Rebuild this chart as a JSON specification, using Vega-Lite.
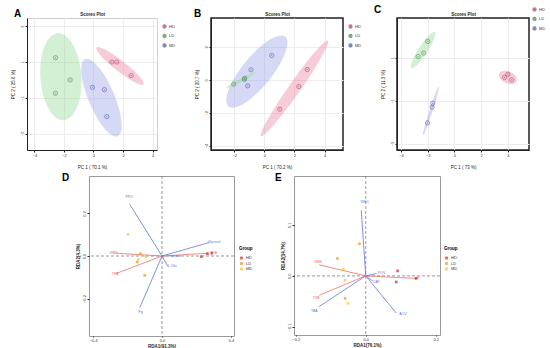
{
  "$schema": "https://vega.github.io/schema/vega-lite/v6.json",
  "padding": {"left": 9, "top": 4, "right": 0, "bottom": 0},
  "spacing": 2,
  "config": {
    "font": "Liberation Sans",
    "view": {"stroke": null},
    "axis": {"labelFontSize": 4, "titleFontSize": 4.5, "tickSize": 2, "labelPadding": 1, "domainColor": "#222", "tickColor": "#222", "labelColor": "#333", "titleColor": "#222", "gridColor": "#ececec", "titleFontWeight": "normal"},
    "legend": {"labelFontSize": 4, "titleFontSize": 4.5, "symbolSize": 10, "rowPadding": 0.5, "labelOffset": 2, "labelColor": "#333"}
  },
  "resolve": {"scale": {"color": "independent", "fill": "independent", "shape": "independent", "size": "independent", "stroke": "independent"}},
  "datasets": {
    "a_pts": [
      {"group": "LD", "x": -2.57, "y": 1.24}, {"group": "LD", "x": -1.58, "y": 0.0}, {"group": "LD", "x": -2.57, "y": -0.74},
      {"group": "MD", "x": -0.07, "y": -0.41}, {"group": "MD", "x": 0.74, "y": -0.54}, {"group": "MD", "x": 0.9, "y": -2.04},
      {"group": "HD", "x": 1.24, "y": 1.0}, {"group": "HD", "x": 1.58, "y": 1.0}, {"group": "HD", "x": 2.55, "y": 0.24}
    ],
    "a_ell": [
      {"cluster": "LD", "x": -2.21, "y": 0.18, "semi_axis": 2.94, "tilt": 86},
      {"cluster": "MD", "x": 0.54, "y": -0.98, "semi_axis": 2.83, "tilt": 67},
      {"cluster": "HD", "x": 1.8, "y": 0.78, "semi_axis": 2.03, "tilt": 38}
    ],
    "b_pts": [
      {"group": "LD", "x": -2.04, "y": -0.26}, {"group": "LD", "x": -1.33, "y": 0.02}, {"group": "LD", "x": -1.31, "y": 0.1},
      {"group": "MD", "x": 0.49, "y": 1.48}, {"group": "MD", "x": -0.89, "y": 0.61}, {"group": "MD", "x": -1.11, "y": -0.37},
      {"group": "HD", "x": 2.85, "y": 0.63}, {"group": "HD", "x": 2.29, "y": -0.41}, {"group": "HD", "x": 1.02, "y": -1.79}
    ],
    "b_ell": [
      {"cluster": "MD", "x": -0.5, "y": 0.5, "semi_axis": 3.0, "tilt": -51},
      {"cluster": "LD", "x": -1.55, "y": -0.02, "semi_axis": 1.13, "tilt": -28},
      {"cluster": "HD", "x": 2.0, "y": -0.53, "semi_axis": 3.89, "tilt": -55}
    ],
    "c_pts": [
      {"group": "LD", "x": -2.0, "y": 1.75}, {"group": "LD", "x": -2.3, "y": 1.21}, {"group": "LD", "x": -2.72, "y": 1.05},
      {"group": "MD", "x": -1.62, "y": -1.12}, {"group": "MD", "x": -1.67, "y": -1.3}, {"group": "MD", "x": -2.02, "y": -2.03},
      {"group": "HD", "x": 3.75, "y": 0.08}, {"group": "HD", "x": 4.0, "y": 0.23}, {"group": "HD", "x": 4.28, "y": -0.03}
    ],
    "c_ell": [
      {"cluster": "LD", "x": -2.35, "y": 1.35, "semi_axis": 1.61, "tilt": -57},
      {"cluster": "MD", "x": -1.76, "y": -1.48, "semi_axis": 1.93, "tilt": -72},
      {"cluster": "HD", "x": 4.0, "y": 0.08, "semi_axis": 0.71, "tilt": 25}
    ],
    "d_pts": [
      {"group": "HD", "x": 0.228, "y": -0.003}, {"group": "HD", "x": 0.263, "y": 0.011}, {"group": "HD", "x": 0.288, "y": 0.013},
      {"group": "LD", "x": -0.125, "y": 0.011}, {"group": "LD", "x": -0.1, "y": -0.091}, {"group": "LD", "x": -0.143, "y": -0.028},
      {"group": "MD", "x": -0.197, "y": 0.102}, {"group": "MD", "x": -0.137, "y": -0.016}, {"group": "MD", "x": -0.094, "y": -0.003}
    ],
    "d_vec": [
      {"type": "response", "name": "PPO", "x": -0.187, "y": 0.243, "lx": -0.19, "ly": 0.275},
      {"type": "response", "name": "Fg", "x": -0.129, "y": -0.243, "lx": -0.124, "ly": -0.262},
      {"type": "response", "name": "Glycerol", "x": 0.272, "y": 0.063, "lx": 0.3, "ly": 0.066},
      {"type": "response", "name": "L-Glu", "x": 0.035, "y": -0.05, "lx": 0.06, "ly": -0.048},
      {"type": "response", "name": "Inosine", "x": 0.02, "y": 0.0, "lx": 0.075, "ly": 0.0},
      {"type": "explanatory", "name": "WBS", "x": -0.268, "y": 0.013, "lx": -0.28, "ly": 0.016},
      {"type": "explanatory", "name": "TPA", "x": -0.268, "y": -0.083, "lx": -0.272, "ly": -0.085},
      {"type": "explanatory", "name": "TVB", "x": 0.267, "y": 0.013, "lx": 0.3, "ly": 0.015}
    ],
    "e_pts": [
      {"group": "HD", "x": 0.091, "y": 0.0098}, {"group": "HD", "x": 0.087, "y": -0.012}, {"group": "HD", "x": 0.144, "y": -0.005},
      {"group": "LD", "x": -0.018, "y": 0.063}, {"group": "LD", "x": -0.081, "y": 0.034}, {"group": "LD", "x": -0.059, "y": -0.044},
      {"group": "MD", "x": -0.064, "y": 0.013}, {"group": "MD", "x": -0.059, "y": -0.0085}, {"group": "MD", "x": -0.051, "y": -0.054}
    ],
    "e_vec": [
      {"type": "response", "name": "WHC", "x": -0.013, "y": 0.129, "lx": -0.003, "ly": 0.145},
      {"type": "response", "name": "TBA", "x": -0.133, "y": -0.06, "lx": -0.147, "ly": -0.068},
      {"type": "response", "name": "ACV", "x": 0.087, "y": -0.073, "lx": 0.106, "ly": -0.074},
      {"type": "response", "name": "POV", "x": 0.031, "y": 0.0045, "lx": 0.045, "ly": 0.005},
      {"type": "response", "name": "CAT", "x": 0.02, "y": -0.01, "lx": 0.03, "ly": -0.012},
      {"type": "explanatory", "name": "WBS", "x": -0.133, "y": 0.0216, "lx": -0.136, "ly": 0.028},
      {"type": "explanatory", "name": "TPA", "x": -0.133, "y": -0.038, "lx": -0.142, "ly": -0.044},
      {"type": "explanatory", "name": "pH", "x": 0.146, "y": -0.005, "lx": 0.146, "ly": -0.005}
    ]
  },
  "vconcat": [
    {
      "spacing": 54,
      "bounds": "flush",
      "resolve": {"scale": {"color": "independent", "fill": "independent", "shape": "independent", "size": "independent", "stroke": "independent"}},
      "hconcat": [
        {
          "width": 130, "height": 132,
          "view": {"stroke": "#cfcfcf"},
          "title": {"text": "A", "anchor": "start", "frame": "group", "dx": -13, "offset": -8, "fontSize": 10, "fontWeight": "bold"},
          "resolve": {"axis": {"x": "independent"}},
          "layer": [
            {
              "data": {"name": "a_ell"},
              "mark": {"type": "point", "filled": true, "opacity": 0.45, "strokeWidth": 0},
              "encoding": {
                "x": {"field": "x", "type": "quantitative", "scale": {"domain": [-4.5, 4.3], "nice": false, "zero": false}, "axis": {"orient": "top", "title": "Scores Plot", "titleFontWeight": "bold", "titleFontSize": 4.5, "labels": false, "ticks": false, "domain": false, "grid": false, "titlePadding": 2}},
                "y": {"field": "y", "type": "quantitative", "scale": {"domain": [-3.9, 3.45], "nice": false, "zero": false}, "axis": {"values": [-3, -2, -1, 0, 1, 2, 3], "labelAngle": -90, "title": "PC 2 ( 25.6 %)", "titlePadding": 5, "grid": true}},
                "fill": {"field": "cluster", "type": "nominal", "scale": {"range": ["#ee8fa8", "#9edb9f", "#a3abeb"]}, "legend": null},
                "shape": {"field": "cluster", "type": "nominal", "scale": {"range": ["M-1,0A1,0.18,0,1,1,1,0A1,0.18,0,1,1,-1,0Z", "M-1,0A1,0.47,0,1,1,1,0A1,0.47,0,1,1,-1,0Z", "M-1,0A1,0.31,0,1,1,1,0A1,0.31,0,1,1,-1,0Z"]}, "legend": null},
                "size": {"field": "semi_axis", "type": "quantitative", "scale": {"type": "pow", "exponent": 2, "domain": [0, 1], "range": [0, 876], "zero": true}, "legend": null},
                "angle": {"field": "tilt", "type": "quantitative", "scale": null}
              }
            },
            {
              "data": {"name": "a_pts"},
              "mark": {"type": "point", "filled": false, "size": 18, "strokeWidth": 0.8},
              "encoding": {
                "x": {"field": "x", "type": "quantitative", "scale": {"domain": [-4.5, 4.3], "nice": false, "zero": false}, "axis": {"values": [-4, -2, 0, 2, 4], "title": "PC 1 ( 70.1 %)", "titlePadding": 7, "grid": true}},
                "y": {"field": "y", "type": "quantitative"},
                "color": {"field": "group", "type": "nominal", "scale": {"domain": ["HD", "LD", "MD"], "range": ["#b03a5b", "#3f8a44", "#4b55a8"]}, "legend": {"title": null, "orient": "none", "legendX": 135, "legendY": 6, "symbolType": "circle", "symbolSize": 8}}
              }
            },
            {
              "data": {"name": "a_pts"},
              "mark": {"type": "point", "filled": true, "size": 1.5},
              "encoding": {
                "x": {"field": "x", "type": "quantitative", "axis": null},
                "y": {"field": "y", "type": "quantitative"},
                "color": {"field": "group", "type": "nominal", "legend": {"title": null, "orient": "none", "legendX": 135, "legendY": 6, "symbolType": "circle", "symbolSize": 8}}
              }
            }
          ]
        },
        {
          "width": 132, "height": 132,
          "view": {"stroke": "#222", "strokeWidth": 1.5},
          "title": {"text": "B", "anchor": "start", "frame": "group", "dx": -17, "offset": -8, "fontSize": 10, "fontWeight": "bold"},
          "resolve": {"axis": {"x": "independent"}},
          "layer": [
            {
              "data": {"name": "b_ell"},
              "mark": {"type": "point", "filled": true, "opacity": 0.45, "strokeWidth": 0},
              "encoding": {
                "x": {"field": "x", "type": "quantitative", "scale": {"domain": [-3.55, 5.23], "nice": false, "zero": false}, "axis": {"orient": "top", "title": "Scores Plot", "titleFontWeight": "bold", "titleFontSize": 4.5, "labels": false, "ticks": false, "domain": false, "grid": false, "titlePadding": 2}},
                "y": {"field": "y", "type": "quantitative", "scale": {"domain": [-4.27, 3.76], "nice": false, "zero": false}, "axis": {"values": [-4, -2, 0, 2], "labelAngle": -90, "title": "PC 2 ( 20.7 %)", "titlePadding": 5, "grid": true}},
                "fill": {"field": "cluster", "type": "nominal", "scale": {"range": ["#ee8fa8", "#9edb9f", "#a3abeb"]}, "legend": null},
                "shape": {"field": "cluster", "type": "nominal", "scale": {"range": ["M-1,0A1,0.1,0,1,1,1,0A1,0.1,0,1,1,-1,0Z", "M-1,0A1,0.1,0,1,1,1,0A1,0.1,0,1,1,-1,0Z", "M-1,0A1,0.33,0,1,1,1,0A1,0.33,0,1,1,-1,0Z"]}, "legend": null},
                "size": {"field": "semi_axis", "type": "quantitative", "scale": {"type": "pow", "exponent": 2, "domain": [0, 1], "range": [0, 900], "zero": true}, "legend": null},
                "angle": {"field": "tilt", "type": "quantitative", "scale": null}
              }
            },
            {
              "data": {"name": "b_pts"},
              "mark": {"type": "point", "filled": false, "size": 18, "strokeWidth": 0.8},
              "encoding": {
                "x": {"field": "x", "type": "quantitative", "scale": {"domain": [-3.55, 5.23], "nice": false, "zero": false}, "axis": {"values": [-2, 0, 2, 4], "title": "PC 1 ( 70.2 %)", "titlePadding": 7, "grid": true}},
                "y": {"field": "y", "type": "quantitative"},
                "color": {"field": "group", "type": "nominal", "scale": {"domain": ["HD", "LD", "MD"], "range": ["#b03a5b", "#3f8a44", "#4b55a8"]}, "legend": {"title": null, "orient": "none", "legendX": 137, "legendY": 6, "symbolType": "circle", "symbolSize": 8}}
              }
            },
            {
              "data": {"name": "b_pts"},
              "mark": {"type": "point", "filled": true, "size": 1.5},
              "encoding": {
                "x": {"field": "x", "type": "quantitative", "axis": null},
                "y": {"field": "y", "type": "quantitative"},
                "color": {"field": "group", "type": "nominal", "legend": {"title": null, "orient": "none", "legendX": 137, "legendY": 6, "symbolType": "circle", "symbolSize": 8}}
              }
            }
          ]
        },
        {
          "width": 132, "height": 132,
          "view": {"stroke": "#222", "strokeWidth": 1.5},
          "title": {"text": "C", "anchor": "start", "frame": "group", "dx": -23, "offset": -8, "fontSize": 10, "fontWeight": "bold"},
          "resolve": {"axis": {"x": "independent"}},
          "layer": [
            {
              "data": {"name": "c_ell"},
              "mark": {"type": "point", "filled": true, "opacity": 0.45, "strokeWidth": 0},
              "encoding": {
                "x": {"field": "x", "type": "quantitative", "scale": {"domain": [-4.3, 5.58], "nice": false, "zero": false}, "axis": {"orient": "top", "title": "Scores Plot", "titleFontWeight": "bold", "titleFontSize": 4.5, "labels": false, "ticks": false, "domain": false, "grid": false, "titlePadding": 2}},
                "y": {"field": "y", "type": "quantitative", "scale": {"domain": [-3.29, 2.84], "nice": false, "zero": false}, "axis": {"values": [-3, -2, -1, 0, 1, 2], "labelAngle": -90, "title": "PC 2 ( 11.3 %)", "titlePadding": 5, "grid": true}},
                "fill": {"field": "cluster", "type": "nominal", "scale": {"range": ["#ee8fa8", "#9edb9f", "#a3abeb"]}, "legend": null},
                "shape": {"field": "cluster", "type": "nominal", "scale": {"range": ["M-1,0A1,0.63,0,1,1,1,0A1,0.63,0,1,1,-1,0Z", "M-1,0A1,0.21,0,1,1,1,0A1,0.21,0,1,1,-1,0Z", "M-1,0A1,0.06,0,1,1,1,0A1,0.06,0,1,1,-1,0Z"]}, "legend": null},
                "size": {"field": "semi_axis", "type": "quantitative", "scale": {"type": "pow", "exponent": 2, "domain": [0, 1], "range": [0, 711], "zero": true}, "legend": null},
                "angle": {"field": "tilt", "type": "quantitative", "scale": null}
              }
            },
            {
              "data": {"name": "c_pts"},
              "mark": {"type": "point", "filled": false, "size": 18, "strokeWidth": 0.8},
              "encoding": {
                "x": {"field": "x", "type": "quantitative", "scale": {"domain": [-4.3, 5.58], "nice": false, "zero": false}, "axis": {"values": [-4, -2, 0, 2, 4], "title": "PC 1 ( 73 %)", "titlePadding": 7, "grid": true}},
                "y": {"field": "y", "type": "quantitative"},
                "color": {"field": "group", "type": "nominal", "scale": {"domain": ["HD", "LD", "MD"], "range": ["#b03a5b", "#3f8a44", "#4b55a8"]}, "legend": {"title": null, "orient": "none", "legendX": 135, "legendY": -11, "symbolType": "circle", "symbolSize": 8}}
              }
            },
            {
              "data": {"name": "c_pts"},
              "mark": {"type": "point", "filled": true, "size": 1.5},
              "encoding": {
                "x": {"field": "x", "type": "quantitative", "axis": null},
                "y": {"field": "y", "type": "quantitative"},
                "color": {"field": "group", "type": "nominal", "legend": {"title": null, "orient": "none", "legendX": 135, "legendY": -11, "symbolType": "circle", "symbolSize": 8}}
              }
            }
          ]
        }
      ]
    },
    {
      "spacing": 60,
      "bounds": "flush",
      "resolve": {"scale": {"color": "independent", "fill": "independent", "shape": "independent", "size": "independent", "stroke": "independent"}},
      "hconcat": [
        {
          "width": 2, "height": 10,
          "data": {"values": []},
          "mark": "point"
        },
        {
          "width": 145, "height": 160,
          "view": {"stroke": "#9a9a9a", "strokeWidth": 1},
          "title": {"text": "D", "anchor": "start", "frame": "group", "dx": -27, "offset": -7, "fontSize": 10, "fontWeight": "bold"},
          "layer": [
            {
              "data": {"values": [{"ref": 0}]},
              "mark": {"type": "rule", "strokeDash": [3, 2], "color": "#555", "strokeWidth": 0.6},
              "encoding": {"x": {"field": "ref", "type": "quantitative"}}
            },
            {
              "data": {"values": [{"ref": 0}]},
              "mark": {"type": "rule", "strokeDash": [3, 2], "color": "#555", "strokeWidth": 0.6},
              "encoding": {"y": {"field": "ref", "type": "quantitative"}}
            },
            {
              "data": {"name": "d_vec"},
              "mark": {"type": "rule", "strokeWidth": 0.8},
              "encoding": {
                "x": {"field": "x", "type": "quantitative"},
                "y": {"field": "y", "type": "quantitative"},
                "x2": {"datum": 0},
                "y2": {"datum": 0},
                "stroke": {"field": "type", "type": "nominal", "scale": {"domain": ["response", "explanatory"], "range": ["#5a78d8", "#e8716a"]}, "legend": null}
              }
            },
            {
              "data": {"name": "d_vec"},
              "mark": {"type": "text", "fontSize": 3.5},
              "encoding": {
                "x": {"field": "lx", "type": "quantitative"},
                "y": {"field": "ly", "type": "quantitative"},
                "text": {"field": "name"},
                "fill": {"field": "type", "type": "nominal", "scale": {"domain": ["response", "explanatory"], "range": ["#5a78d8", "#e8716a"]}, "legend": null}
              }
            },
            {
              "data": {"name": "d_pts"},
              "mark": {"type": "point", "filled": true, "shape": "square", "size": 7},
              "encoding": {
                "x": {"field": "x", "type": "quantitative", "scale": {"domain": [-0.423, 0.417], "nice": false, "zero": false}, "axis": {"values": [-0.4, -0.2, 0, 0.2, 0.4], "format": ".1f", "title": "RDA1(91.3%)", "titleFontWeight": "bold", "titlePadding": 1, "tickSize": 1, "domain": false, "grid": false}},
                "y": {"field": "y", "type": "quantitative", "scale": {"domain": [-0.376, 0.376], "nice": false, "zero": false}, "axis": {"values": [-0.2, 0, 0.2], "format": ".1f", "labelAngle": -90, "title": "RDA2(4.3%)", "titleFontWeight": "bold", "titlePadding": 2, "domain": false, "grid": false}},
                "color": {"field": "group", "type": "nominal", "scale": {"domain": ["HD", "LD", "MD"], "range": ["#c0282d", "#f0901e", "#f3c623"]}, "legend": {"title": "Group", "orient": "none", "legendX": 150, "legendY": 70, "symbolType": "square", "symbolSize": 8}}
              }
            }
          ]
        },
        {
          "width": 146, "height": 159,
          "view": {"stroke": "#9a9a9a", "strokeWidth": 1},
          "title": {"text": "E", "anchor": "start", "frame": "group", "dx": -19, "offset": -7, "fontSize": 10, "fontWeight": "bold"},
          "layer": [
            {
              "data": {"values": [{"ref": 0}]},
              "mark": {"type": "rule", "strokeDash": [3, 2], "color": "#555", "strokeWidth": 0.6},
              "encoding": {"x": {"field": "ref", "type": "quantitative"}}
            },
            {
              "data": {"values": [{"ref": 0}]},
              "mark": {"type": "rule", "strokeDash": [3, 2], "color": "#555", "strokeWidth": 0.6},
              "encoding": {"y": {"field": "ref", "type": "quantitative"}}
            },
            {
              "data": {"name": "e_vec"},
              "mark": {"type": "rule", "strokeWidth": 0.8},
              "encoding": {
                "x": {"field": "x", "type": "quantitative"},
                "y": {"field": "y", "type": "quantitative"},
                "x2": {"datum": 0},
                "y2": {"datum": 0},
                "stroke": {"field": "type", "type": "nominal", "scale": {"domain": ["response", "explanatory"], "range": ["#5a78d8", "#e8716a"]}, "legend": null}
              }
            },
            {
              "data": {"name": "e_vec"},
              "mark": {"type": "text", "fontSize": 3.5},
              "encoding": {
                "x": {"field": "lx", "type": "quantitative"},
                "y": {"field": "ly", "type": "quantitative"},
                "text": {"field": "name"},
                "fill": {"field": "type", "type": "nominal", "scale": {"domain": ["response", "explanatory"], "range": ["#5a78d8", "#e8716a"]}, "legend": null}
              }
            },
            {
              "data": {"name": "e_pts"},
              "mark": {"type": "point", "filled": true, "shape": "square", "size": 7},
              "encoding": {
                "x": {"field": "x", "type": "quantitative", "scale": {"domain": [-0.205, 0.212], "nice": false, "zero": false}, "axis": {"values": [-0.2, -0.1, 0, 0.1, 0.2], "format": ".1f", "title": "RDA1(76.1%)", "titleFontWeight": "bold", "titlePadding": 1, "tickSize": 1, "domain": false, "grid": false}},
                "y": {"field": "y", "type": "quantitative", "scale": {"domain": [-0.116, 0.196], "nice": false, "zero": false}, "axis": {"values": [-0.1, 0, 0.1], "format": ".1f", "labelAngle": -90, "title": "RDA2(14.7%)", "titleFontWeight": "bold", "titlePadding": 2, "domain": false, "grid": false}},
                "color": {"field": "group", "type": "nominal", "scale": {"domain": ["HD", "LD", "MD"], "range": ["#c0282d", "#f0901e", "#f3c623"]}, "legend": {"title": "Group", "orient": "none", "legendX": 150, "legendY": 70, "symbolType": "square", "symbolSize": 8}}
              }
            }
          ]
        }
      ]
    }
  ]
}
